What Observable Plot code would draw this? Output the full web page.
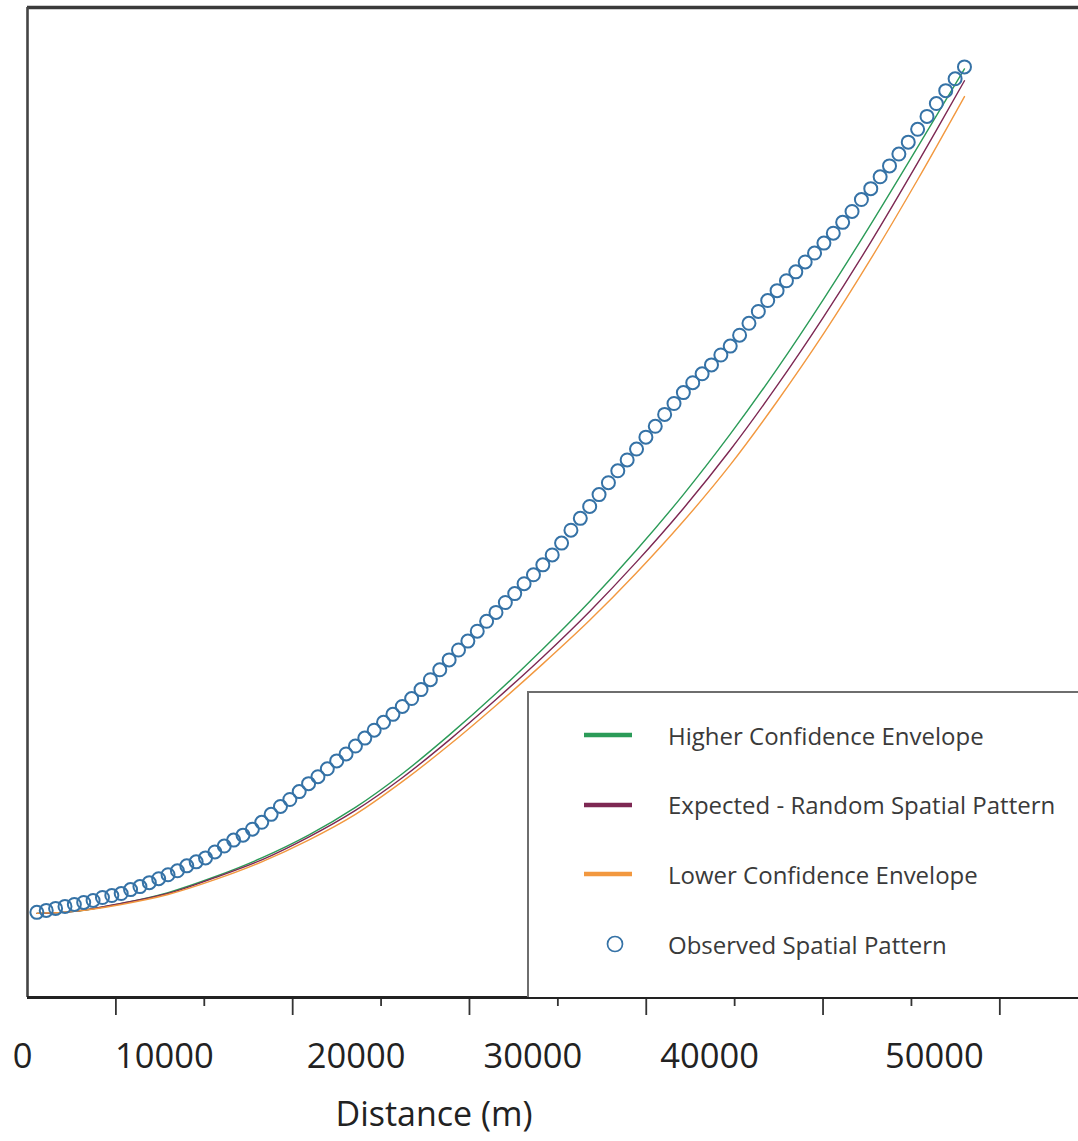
<!DOCTYPE html>
<html>
<head>
<meta charset="utf-8">
<script src="https://cdn.jsdelivr.net/npm/d3@7"></script>
<script src="https://cdn.jsdelivr.net/npm/@observablehq/plot@0.6"></script>
<style>
  body { margin: 0; background: #fff; font-family: "Open Sans", sans-serif; }
  #wrap { position: relative; width: 1078px; height: 1141px; overflow: hidden; }
  #legend { position: absolute; left: 527px; top: 691px; width: 620px; height: 306px;
            border: 2px solid #6e6e6e; border-right: none; border-bottom: none; background: #fff; box-sizing: border-box; }
  .item { position: absolute; left: 0; height: 30px; display: flex; align-items: center; }
  .item svg { margin-left: 54px; }
  .item span { margin-left: 35px; font-size: 24px; color: #3a3a3a; white-space: nowrap; }
</style>
</head>
<body>
<div id="wrap"><div id="legend"></div></div>
<script>
// Observed spatial pattern (one circle per distance band)
const distances = [530,1060,1590,2120,2650,3180,3710,4240,4770,5300,
  5830,6360,6890,7420,7950,8480,9010,9540,10070,10600,
  11130,11660,12190,12720,13250,13780,14310,14840,15370,15900,
  16430,16960,17490,18020,18550,19080,19610,20140,20670,21200,
  21730,22260,22790,23320,23850,24380,24910,25440,25970,26500,
  27030,27560,28090,28620,29150,29680,30210,30740,31270,31800,
  32330,32860,33390,33920,34450,34980,35510,36040,36570,37100,
  37630,38160,38690,39220,39750,40280,40810,41340,41870,42400,
  42930,43460,43990,44520,45050,45580,46110,46640,47170,47700,
  48230,48760,49290,49820,50350,50880,51410,51940,52470,53000];
const observed = [8.6,8.8,9.0,9.2,9.4,9.6,9.8,10.1,10.3,10.5,
  10.9,11.2,11.6,12.0,12.4,12.8,13.3,13.7,14.1,14.7,
  15.3,15.9,16.4,17.0,17.7,18.5,19.3,20.0,20.8,21.6,
  22.3,23.1,23.9,24.6,25.4,26.2,27.0,27.8,28.6,29.4,
  30.2,31.1,32.1,33.1,34.1,35.1,36.0,37.0,38.0,38.9,
  39.9,40.8,41.8,42.7,43.7,44.7,45.9,47.2,48.4,49.6,
  50.8,52.0,53.2,54.3,55.4,56.6,57.7,58.9,60.0,61.1,
  62.1,63.0,63.9,64.9,65.8,66.9,68.1,69.3,70.4,71.4,
  72.4,73.3,74.3,75.2,76.2,77.2,78.3,79.4,80.6,81.7,
  82.9,84.0,85.2,86.4,87.7,89.0,90.3,91.6,92.8,94.0];

// Envelope / expected curves (read at every fifth band)
const lineDistances = [530,2650,5300,7950,10600,13250,15900,18550,21200,23850,26500,
  29150,31800,34450,37100,39750,42400,45050,47700,50350,53000];
const higher   = [8.5,8.7,9.5,10.6,12.2,14.1,16.4,19.2,22.6,26.5,30.7,35.2,40.0,45.2,50.8,56.9,63.5,70.6,78.1,85.9,93.8];
const expected = [8.5,8.7,9.5,10.5,12.1,13.9,16.2,18.9,22.2,26.0,30.1,34.4,39.0,44.0,49.4,55.3,61.8,68.8,76.3,84.3,92.6];
const lower    = [8.5,8.7,9.4,10.4,11.9,13.7,15.9,18.5,21.8,25.5,29.5,33.7,38.1,42.9,48.1,53.8,60.2,67.1,74.6,82.6,91.0];

const seriesNames  = ["Higher Confidence Envelope", "Expected - Random Spatial Pattern", "Lower Confidence Envelope"];
const seriesColors = ["#2b9b58", "#7d2853", "#f2983f"];
const observedName = "Observed Spatial Pattern";
const observedColor = "#3572a6";

const majorTicks = [5000, 15000, 25000, 35000, 45000, 55000];
const minorTicks = [10000, 20000, 30000, 40000, 50000];
const tickLabels = [0, 10000, 20000, 30000, 40000, 50000];

const lineRows = [higher, expected, lower].flatMap((vals, k) =>
  vals.map((v, i) => ({d: lineDistances[i], v, series: seriesNames[k]})));
const obsRows = observed.map((v, i) => ({d: distances[i], v}));

const labelStyle = {tickSize: 0, tickPadding: 46, fontSize: 34.5, tickFormat: d => String(d), label: null};

const chart = Plot.plot({
  width: 1078, height: 1141,
  marginLeft: 27, marginRight: 0, marginTop: 7, marginBottom: 144,
  x: {domain: [0, 59450], label: null},
  y: {domain: [0, 100], axis: null},
  color: {domain: seriesNames, range: seriesColors},
  style: {fontFamily: "Open Sans", background: "white", color: "#222"},
  marks: [
    Plot.ruleY([100], {stroke: "#3a3a3a", strokeWidth: 3.3}),
    Plot.ruleX([0], {stroke: "#444", strokeWidth: 2.6}),
    Plot.line(lineRows, {x: "d", y: "v", z: "series", stroke: "series", strokeWidth: 1.4, curve: "catmull-rom"}),
    Plot.dot(obsRows, {x: "d", y: "v", r: 6.5, stroke: observedColor, strokeWidth: 2, fill: "none"}),
    Plot.axisX({ticks: majorTicks, tickSize: 18, tickFormat: () => "", stroke: "#333", strokeWidth: 1.8, label: null}),
    Plot.axisX({ticks: minorTicks, tickSize: 9, tickFormat: () => "", stroke: "#333", strokeWidth: 1.8, label: null}),
    // tick labels, placed as in the original (slightly off their ticks)
    Plot.axisX({...labelStyle, ticks: tickLabels.slice(0, 1), dx: -5}),
    Plot.axisX({...labelStyle, ticks: tickLabels.slice(1, 2), dx: -40}),
    Plot.axisX({...labelStyle, ticks: tickLabels.slice(2, 5), dx: -25}),
    Plot.axisX({...labelStyle, ticks: tickLabels.slice(5), dx: 23}),
    Plot.ruleY([0], {stroke: "#222", strokeWidth: 3}),
    Plot.text(["Distance (m)"], {frameAnchor: "bottom", dx: -119, dy: 128, fontSize: 34, fill: "#222"})
  ]
});
document.getElementById("wrap").prepend(chart);

// Legend (HTML overlay)
const legend = document.getElementById("legend");
const entries = seriesNames.map((n, i) => ({name: n, color: seriesColors[i], kind: "line"}))
  .concat([{name: observedName, color: observedColor, kind: "dot"}]);
entries.forEach((e, i) => {
  const div = document.createElement("div");
  div.className = "item";
  div.style.top = (27 + i * 69.7) + "px";
  const sw = e.kind === "line"
    ? `<svg width="50" height="20"><line x1="1" x2="49" y1="10" y2="10" stroke="${e.color}" stroke-width="4.5"/></svg>`
    : `<svg width="50" height="20"><circle cx="32" cy="10" r="7.5" fill="none" stroke="${e.color}" stroke-width="1.7"/></svg>`;
  div.innerHTML = sw + `<span>${e.name}</span>`;
  legend.appendChild(div);
});
</script>
</body>
</html>
